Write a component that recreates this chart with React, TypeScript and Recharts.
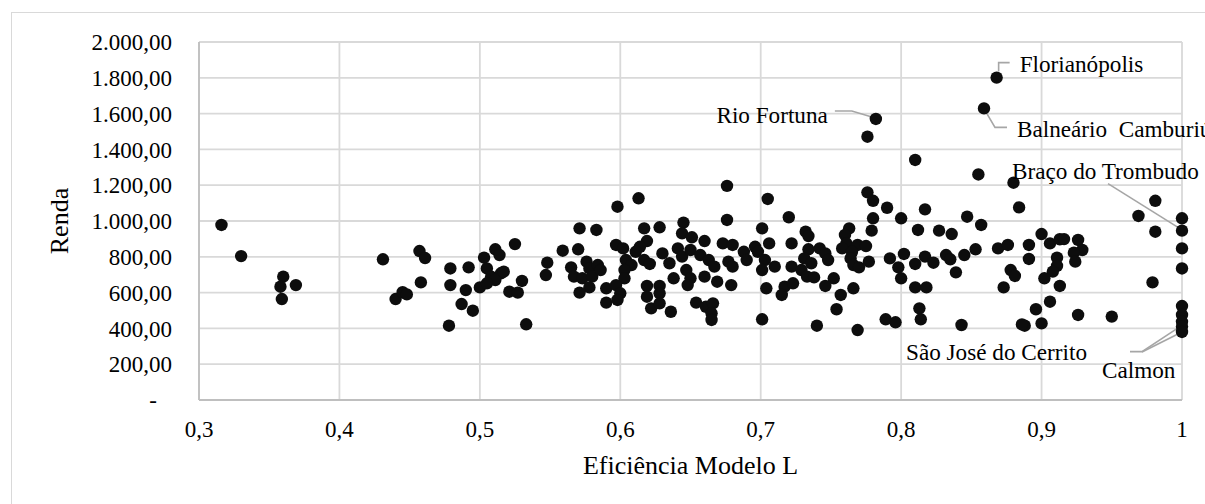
import React from 'react'
import { CartesianGrid, Scatter, ScatterChart, XAxis, YAxis } from 'recharts'

const FONT = '"Liberation Serif", "Times New Roman", serif'
const GRID = '#d9d9d9'
const AXIS = '#bfbfbf'
const DOT = '#0d0d0d'
const LEADER = '#a6a6a6'

// Eficiência (eixo x) e Renda (eixo y) de cada município
const EFICIENCIA = [
  0.316, 0.330, 0.360, 0.358, 0.369, 0.359, 0.431, 0.440, 0.445, 0.448,
  0.457, 0.461, 0.458, 0.479, 0.479, 0.478, 0.492, 0.490, 0.487, 0.495,
  0.503, 0.500, 0.505, 0.511, 0.514, 0.508, 0.515, 0.511, 0.505, 0.517,
  0.525, 0.521, 0.527, 0.530, 0.533, 0.548, 0.547, 0.559, 0.571, 0.583,
  0.570, 0.565, 0.567, 0.576, 0.578, 0.573, 0.580, 0.578, 0.571, 0.584,
  0.676, 0.613, 0.598, 0.705, 0.720, 0.676, 0.617, 0.628, 0.645, 0.644,
  0.651, 0.660, 0.701, 0.597, 0.602, 0.619, 0.614, 0.611, 0.604, 0.608,
  0.603, 0.603, 0.586, 0.590, 0.597, 0.600, 0.598, 0.590, 0.617, 0.621,
  0.619, 0.628, 0.619, 0.628, 0.622, 0.628, 0.636, 0.630, 0.635, 0.641,
  0.644, 0.650, 0.657, 0.663, 0.667, 0.638, 0.647, 0.650, 0.648, 0.660,
  0.669, 0.679, 0.673, 0.680, 0.688, 0.690, 0.677, 0.680, 0.696, 0.706,
  0.698, 0.703, 0.710, 0.701, 0.704, 0.701, 0.654, 0.661, 0.666, 0.665,
  0.665, 0.717, 0.715, 0.722, 0.722,
  0.810, 0.855, 0.776, 0.780, 0.790, 0.817, 0.780, 0.800, 0.847, 0.857,
  0.763, 0.779, 0.812, 0.732, 0.734, 0.827, 0.836, 0.760, 0.761, 0.769,
  0.775, 0.758, 0.765, 0.734, 0.742, 0.746, 0.748, 0.731, 0.736, 0.729,
  0.764, 0.766, 0.770, 0.777, 0.792, 0.802, 0.798, 0.800, 0.810, 0.817,
  0.823, 0.832, 0.835, 0.845, 0.853, 0.839, 0.733, 0.738, 0.723, 0.752,
  0.746, 0.757, 0.766, 0.754, 0.740, 0.769, 0.789, 0.796, 0.810, 0.818,
  0.813, 0.814, 0.843,
  0.880, 0.884, 0.981, 0.969, 0.981, 1.0, 1.0, 1.0, 0.979, 1.0, 1.0, 1.0,
  0.869, 0.876, 0.891, 0.900, 0.906, 0.913, 0.916, 0.926, 0.929, 0.923, 0.924,
  0.891, 0.911, 0.911, 0.908, 0.878, 0.881, 0.873, 0.902, 0.913, 0.906, 0.896,
  0.900, 0.888, 0.886, 0.926, 0.950, 0.776,
]

const RENDA = [
  978, 804, 689, 633, 642, 564, 786, 564, 602, 590,
  832, 793, 657, 735, 642, 415, 741, 614, 536, 499,
  795, 629, 735, 842, 810, 689, 708, 670, 652, 717,
  871, 605, 600, 665, 423, 767, 698, 834, 959, 950,
  842, 741, 689, 773, 735, 680, 689, 629, 600, 754,
  1196, 1127, 1080, 1123, 1021, 1006, 959, 965, 991, 931,
  909, 888, 959, 866, 847, 888, 856, 828, 782, 754,
  726, 680, 726, 624, 642, 596, 559, 544, 782, 760,
  637, 637, 577, 596, 512, 540, 493, 819, 764, 847,
  801, 838, 810, 782, 745, 680, 726, 680, 642, 689,
  661, 642, 875, 866, 828, 782, 773, 745, 856, 875,
  828, 782, 745, 726, 624, 451, 544, 521, 540, 484,
  447, 633, 587, 875, 745,
  1341, 1260, 1160, 1113, 1074, 1065, 1015, 1015, 1024, 978,
  959, 946, 950, 940, 916, 946, 927, 922, 875, 866,
  860, 847, 828, 842, 847, 819, 782, 791, 764, 726,
  791, 754, 741, 773, 791, 816, 741, 680, 760, 801,
  767, 810, 786, 810, 842, 713, 689, 685, 652, 680,
  637, 587, 624, 507, 415, 391, 451, 434, 629, 629,
  512, 451, 419,
  1214, 1076, 1113, 1028, 940, 1015, 847, 735, 657, 525, 475, 437,
  847, 866, 866, 927, 875, 898, 899, 894, 838, 823, 773,
  788, 795, 749, 717, 726, 693, 629, 680, 637, 549, 507,
  428, 415, 422, 475, 466, 1471,
]

// municípios com rótulo
const DESTAQUES = [
  'Florianópolis',
  'Balneário  Camburiú',
  'Rio Fortuna',
  'Braço do Trombudo',
  'São José do Cerrito',
  'Calmon',
]
const DESTAQUES_EFICIENCIA = [0.868, 0.859, 0.782, 1.0, 1.0, 1.0]
const DESTAQUES_RENDA = [1801, 1629, 1570, 946, 410, 380]

const X_TICKS = [0.3, 0.4, 0.5, 0.6, 0.7, 0.8, 0.9, 1]
const Y_TICKS = [0, 200, 400, 600, 800, 1000, 1200, 1400, 1600, 1800, 2000]

const pontos = EFICIENCIA.map((e, i) => ({ e, renda: RENDA[i] }))
const destaques = DESTAQUES.map((nome, i) => ({
  nome,
  e: DESTAQUES_EFICIENCIA[i],
  renda: DESTAQUES_RENDA[i],
}))

// linha de chamada e posição do texto, relativas ao ponto
const CHAMADAS = {
  'Florianópolis': { path: [[2, -6], [2, -15], [13, -15]], dx: 23, dy: -14, anchor: 'start' },
  'Balneário  Camburiú': { path: [[1, 2], [11, 19], [23, 19]], dx: 33, dy: 20, anchor: 'start' },
  'Rio Fortuna': { path: [[-4, -2], [-24, -8], [-41, -8]], dx: -48, dy: -4, anchor: 'end' },
  'Braço do Trombudo': { path: [[-2, -2], [-74, -47]], dx: -170, dy: -60, anchor: 'start' },
  'São José do Cerrito': { path: [[-2, 0], [-40, 25], [-52, 25]], dx: -95, dy: 25, anchor: 'end' },
  'Calmon': { path: [[-2, 1], [-40, 20]], dx: -80, dy: 38, anchor: 'start' },
}

const fmtRenda = (v: number) => {
  if (v === 0) return '-'
  return String(Math.round(v)).replace(/\B(?=(\d{3})+(?!\d))/g, '.') + ',00'
}
const fmtEf = (v: number) => (v === 1 ? '1' : v.toFixed(1).replace('.', ','))

const XTick = ({ x, y, payload }: any) => (
  <text x={x} y={y} dy="0.71em" textAnchor="middle" fontSize={23} fontFamily={FONT} fill="#000">
    {fmtEf(payload.value)}
  </text>
)

const YTick = ({ x, y, payload }: any) => (
  <text
    x={payload.value === 0 ? x - 15 : x}
    y={y}
    dy="0.355em"
    textAnchor="end"
    fontSize={23}
    fontFamily={FONT}
    fill="#000"
  >
    {fmtRenda(payload.value)}
  </text>
)

const Ponto = ({ cx, cy }: any) => <circle cx={cx} cy={cy} r={6.2} fill={DOT} />

const Destaque = ({ cx, cy, payload }: any) => {
  const c = CHAMADAS[payload.nome]
  return (
    <g>
      <polyline
        points={c.path.map(([dx, dy]) => `${cx + dx},${cy + dy}`).join(' ')}
        fill="none"
        stroke={LEADER}
        strokeWidth={1.6}
      />
      <circle cx={cx} cy={cy} r={6.2} fill={DOT} />
      <text
        x={cx + c.dx}
        y={cy + c.dy}
        dy="0.35em"
        textAnchor={c.anchor}
        fontSize={23.2}
        fontFamily={FONT}
        fill="#000"
        style={{ whiteSpace: 'pre' }}
      >
        {payload.nome}
      </text>
    </g>
  )
}

export default function App() {
  return (
    <div style={{ position: 'relative', width: 1205, height: 504, overflow: 'hidden', background: '#fff' }}>
      <style>{'body{margin:0}'}</style>
      <div
        style={{
          position: 'absolute',
          left: 11,
          top: 12,
          width: 1400,
          height: 700,
          border: `1.5px solid ${GRID}`,
        }}
      />
      <div style={{ position: 'absolute', left: 0, top: 0 }}>
        <ScatterChart width={1205} height={504} margin={{ top: 42, right: 23, bottom: 0, left: 0 }}>
          <CartesianGrid stroke={GRID} strokeWidth={1.8} />
          <XAxis
            type="number"
            dataKey="e"
            domain={[0.3, 1]}
            ticks={X_TICKS}
            interval={0}
            height={104}
            axisLine={{ stroke: AXIS, strokeWidth: 1.8 }}
            tickLine={false}
            tickSize={6}
            tickMargin={15}
            tick={<XTick />}
            label={{
              content: ({ viewBox }: any) => {
                const vb = viewBox || { x: 199, y: 400, width: 983 }
                return (
                  <text
                    x={vb.x + vb.width / 2}
                    y={vb.y + 65}
                    dy="0.35em"
                    textAnchor="middle"
                    fontSize={26}
                    fontFamily={FONT}
                    fill="#000"
                  >
                    Eficiência Modelo L
                  </text>
                )
              },
            }}
          />
          <YAxis
            type="number"
            dataKey="renda"
            domain={[0, 2000]}
            ticks={Y_TICKS}
            interval={0}
            width={199}
            axisLine={{ stroke: AXIS, strokeWidth: 1.8 }}
            tickLine={false}
            tickSize={6}
            tickMargin={21}
            tick={<YTick />}
            label={{
              content: ({ viewBox }: any) => {
                const vb = viewBox || { x: 0, y: 42, height: 358 }
                const cx = vb.x + 59
                const cy = vb.y + vb.height / 2
                return (
                  <text
                    x={cx}
                    y={cy}
                    dy="0.35em"
                    textAnchor="middle"
                    fontSize={26}
                    fontFamily={FONT}
                    fill="#000"
                    transform={`rotate(-90, ${cx}, ${cy})`}
                  >
                    Renda
                  </text>
                )
              },
            }}
          />
          <Scatter data={pontos} shape={<Ponto />} isAnimationActive={false} />
          <Scatter data={destaques} shape={<Destaque />} isAnimationActive={false} />
        </ScatterChart>
      </div>
    </div>
  )
}
